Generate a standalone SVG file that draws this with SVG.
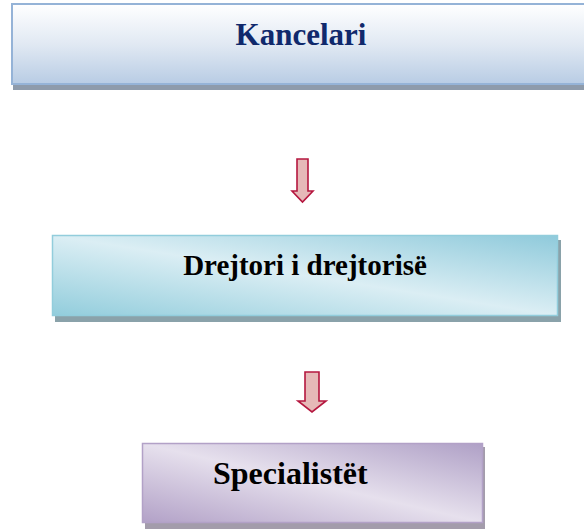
<svg xmlns="http://www.w3.org/2000/svg" width="584" height="529" viewBox="0 0 584 529">
  <style>
    .label { font-family: "Liberation Serif", "Times New Roman", serif; font-weight: bold; }
    .arrow { fill: #e6b9b8; stroke: #b5173f; stroke-width: 1.6; stroke-linejoin: miter; }
  </style>
  <defs>
    <linearGradient id="gBlue" x1="0" y1="0" x2="0" y2="1">
      <stop offset="0" stop-color="#ffffff"/>
      <stop offset="0.5" stop-color="#e1e9f3"/>
      <stop offset="1" stop-color="#b8cce4"/>
    </linearGradient>
    <linearGradient id="gTeal" x1="1" y1="0" x2="0" y2="1">
      <stop offset="0" stop-color="#8fcadb"/>
      <stop offset="0.5" stop-color="#dbeef4"/>
      <stop offset="1" stop-color="#92cddc"/>
    </linearGradient>
    <linearGradient id="gPurple" x1="1" y1="0" x2="0" y2="1">
      <stop offset="0" stop-color="#afa0c6"/>
      <stop offset="0.5" stop-color="#e6e0ed"/>
      <stop offset="1" stop-color="#b2a1c7"/>
    </linearGradient>
  </defs>

  <g id="node-kancelari">
    <rect x="13" y="8" width="590" height="82" fill="#8e9bab"/>
    <rect x="12" y="4" width="590" height="80" fill="url(#gBlue)" stroke="#95b3d7" stroke-width="2"/>
    <text class="label" x="301" y="45" font-size="31" text-anchor="middle" fill="#10296c">Kancelari</text>
  </g>

  <g id="node-drejtori">
    <rect x="55" y="240" width="506" height="82" fill="#8aa2aa"/>
    <rect x="52.5" y="235.5" width="505" height="80" fill="url(#gTeal)" stroke="#92cddc" stroke-width="1.5"/>
    <text class="label" x="305" y="275" font-size="29" text-anchor="middle" fill="#000000">Drejtori i drejtorisë</text>
  </g>

  <g id="node-specialistet">
    <rect x="145" y="447" width="340" height="82" fill="#a39cab"/>
    <rect x="142.5" y="443.5" width="340" height="79" fill="url(#gPurple)" stroke="#b2a1c7" stroke-width="1.5"/>
    <text class="label" x="213" y="484" font-size="32" fill="#000000">Specialistët</text>
  </g>

  <g id="connectors">
    <path class="arrow" d="M297,159 L308,159 L308,191 L313,191 L302.5,202 L292,191 L297,191 Z"/>
    <path class="arrow" d="M305,372 L319,372 L319,401 L326,401 L312,412 L298,401 L305,401 Z"/>
  </g>
</svg>
